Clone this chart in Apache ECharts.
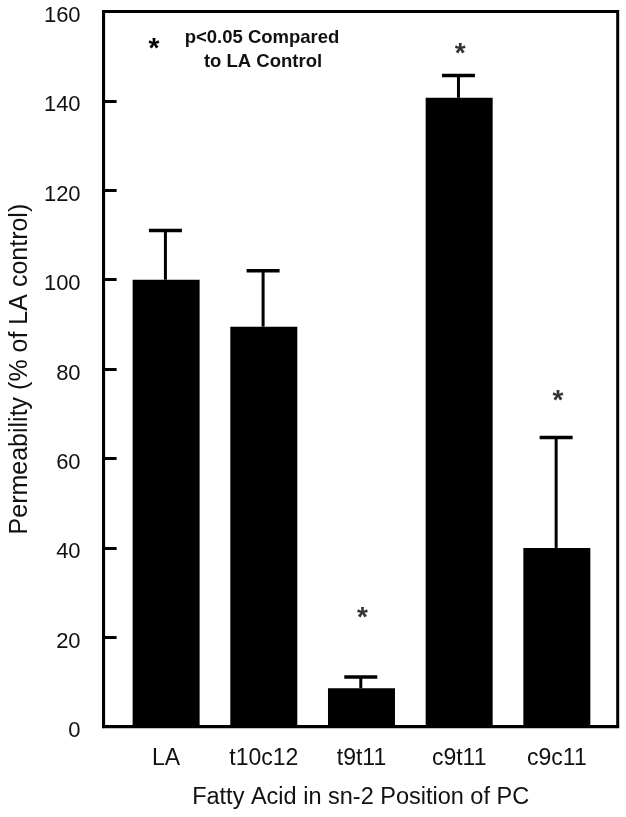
<!DOCTYPE html>
<html lang="en">
<head>
    <meta charset="UTF-8">
    <title>Permeability</title>
    <script src="https://cdn.jsdelivr.net/npm/echarts@6/dist/echarts.min.js"></script>
    <style>
        html, body { margin: 0; padding: 0; background: #fff; }
        #chart { width: 626px; height: 817px; }
    </style>
</head>
<body>
<div id="chart"></div>

<script>
    // data
    var categories = ['LA', 't10c12', 't9t11', 'c9t11', 'c9c11'];
    var means = [100, 89.5, 8.6, 140.7, 40];
    var errors = [11, 12.5, 2.5, 5, 24.7];
    var starCats = [2, 3, 4];
    var starY = [25.6, 151.8, 74.2];

    var font = '"Liberation Sans", Arial, sans-serif';

    var barData = [];
    var errData = [];
    for (var i = 0; i < categories.length; i++) {
        barData.push([i, means[i]]);
        errData.push([i, means[i], means[i] + errors[i]]);
    }
    var starData = [];
    for (var j = 0; j < starCats.length; j++) {
        starData.push([starCats[j], starY[j]]);
    }

    var myChart = echarts.init(document.getElementById('chart'));
    var option = {
        animation: false,
        backgroundColor: '#fff',
        grid: {
            left: 96.7, right: 8.3, top: 11.5, bottom: 90.3,
            show: true, borderColor: '#000', borderWidth: 3
        },
        xAxis: {
            type: 'value',
            min: -0.64,
            max: 4.623,
            name: 'Fatty Acid in sn-2 Position of PC',
            nameLocation: 'middle',
            nameGap: 59,
            nameTextStyle: { fontFamily: font, fontSize: 23.5, color: '#111' },
            axisLine: { onZero: false, lineStyle: { color: '#000', width: 3 } },
            axisTick: { show: false },
            splitLine: { show: false },
            axisLabel: {
                customValues: [0, 1, 2, 3, 4],
                formatter: function (v) { return categories[Math.round(v)]; },
                fontFamily: font, fontSize: 23, color: '#111', margin: 20
            }
        },
        yAxis: {
            type: 'value',
            min: 0,
            max: 160,
            interval: 20,
            name: 'Permeability (% of LA control)',
            nameLocation: 'middle',
            nameGap: 63,
            nameTextStyle: { fontFamily: font, fontSize: 25, color: '#111' },
            axisLine: { show: true, onZero: false, lineStyle: { color: '#000', width: 3 } },
            axisTick: { inside: true, length: 13, lineStyle: { color: '#000', width: 3 } },
            splitLine: { show: false },
            axisLabel: {
                margin: 23,
                formatter: function (v) { return '{t|' + v + '}'; },
                rich: {
                    t: { fontFamily: font, fontSize: 22, color: '#111', padding: [9, 0, 0, 0] }
                }
            }
        },
        series: [
            {
                type: 'bar',
                data: barData,
                barWidth: 67,
                itemStyle: { color: '#000' },
                z: 2
            },
            {
                type: 'custom',
                data: errData,
                z: 3,
                renderItem: function (params, api) {
                    var base = api.coord([api.value(0), api.value(1)]);
                    var top = api.coord([api.value(0), api.value(2)]);
                    var x = base[0] - 0.7;
                    return {
                        type: 'group',
                        children: [
                            { type: 'line', shape: { x1: x, y1: base[1], x2: x, y2: top[1] },
                              style: { stroke: '#000', lineWidth: 3 } },
                            { type: 'line', shape: { x1: x - 16.5, y1: top[1], x2: x + 16.5, y2: top[1] },
                              style: { stroke: '#000', lineWidth: 3.5 } }
                        ]
                    };
                }
            },
            {
                type: 'scatter',
                data: starData,
                symbol: 'circle',
                symbolSize: 1,
                itemStyle: { color: 'rgba(0,0,0,0)' },
                z: 4,
                label: {
                    show: true,
                    position: 'inside',
                    formatter: '*',
                    fontFamily: font, fontSize: 28, fontWeight: 'bold', color: '#000',
                    offset: [1, 6]
                }
            }
        ],
        graphic: [
            { type: 'text', x: 154, y: 49,
              style: { text: '*', font: 'bold 28px ' + font, fill: '#000',
                       textAlign: 'center', textVerticalAlign: 'middle' } },
            { type: 'text', x: 262, y: 38,
              style: { text: 'p<0.05 Compared', font: 'bold 18.5px ' + font, fill: '#111',
                       textAlign: 'center', textVerticalAlign: 'middle' } },
            { type: 'text', x: 263, y: 62,
              style: { text: 'to LA Control', font: 'bold 18.5px ' + font, fill: '#111',
                       textAlign: 'center', textVerticalAlign: 'middle' } }
        ]
    };
    myChart.setOption(option);
</script>

</body>
</html>
